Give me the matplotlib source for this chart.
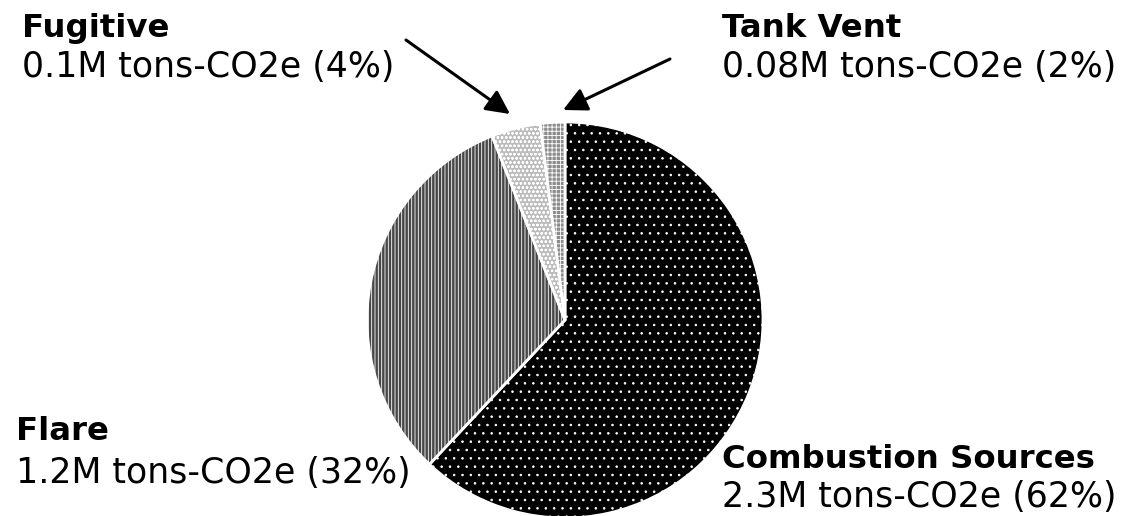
import numpy as np
import matplotlib
matplotlib.use("Agg")
import matplotlib.pyplot as plt

# emission sources (share of total, %)
sources = ["Combustion Sources", "Flare", "Fugitive", "Tank Vent"]
shares = [62, 32, 4, 2]
amounts = ["2.3M", "1.2M", "0.1M", "0.08M"]

face = ["#000000", "#484848", "#bcbcbc", "#8c8c8c"]
hatches = ["..", "|||||", "oooo", "++++"]

W, H = 1136, 516
plt.rcParams["hatch.linewidth"] = 0.6
plt.rcParams["font.family"] = "DejaVu Sans"

fig = plt.figure(figsize=(W / 100, H / 100), dpi=100)
ax = fig.add_axes([0, 0, 1, 1])

wedges, _ = ax.pie(shares, startangle=90, counterclock=False,
                   center=(565, H - 320), radius=198, frame=True,
                   colors=face,
                   wedgeprops=dict(edgecolor="white", linewidth=2))
for w, h in zip(wedges, hatches):
    w.set_hatch(h)
ax.set_xlim(0, W)
ax.set_ylim(0, H)
ax.axis("off")


def label(x, y_bold, y_reg, name, amt, pct):
    ax.text(x, H - y_bold, name, fontsize=23.3, fontweight="bold",
            va="baseline", ha="left")
    ax.text(x, H - y_reg, f"{amt} tons-CO2e ({pct}%)", fontsize=25,
            va="baseline", ha="left")


label(22, 37, 77, sources[2], amounts[2], shares[2])
label(722, 37, 77, sources[3], amounts[3], shares[3])
label(16, 440, 483, sources[1], amounts[1], shares[1])
label(722, 468, 507, sources[0], amounts[0], shares[0])

arrow = dict(arrowstyle="-|>", lw=2.2, color="black", mutation_scale=36,
             shrinkA=0, shrinkB=0)
ax.annotate("", xy=(510, H - 114), xytext=(406, H - 40), arrowprops=arrow)
ax.annotate("", xy=(563, H - 110), xytext=(670, H - 59), arrowprops=arrow)

fig.savefig("out.png", dpi=100)
